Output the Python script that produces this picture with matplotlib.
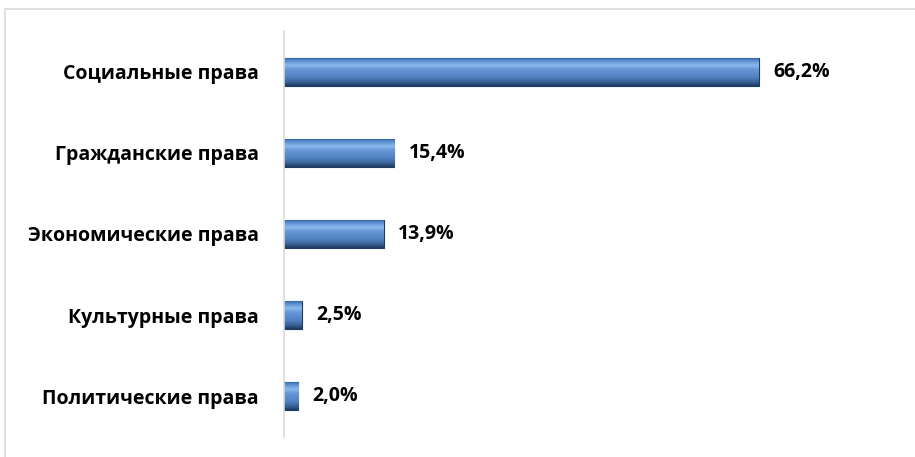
import numpy as np
import matplotlib.pyplot as plt
from matplotlib.patches import Rectangle
from matplotlib.colors import LinearSegmentedColormap

categories = ['Социальные права', 'Гражданские права', 'Экономические права',
              'Культурные права', 'Политические права']
values = [66.2, 15.4, 13.9, 2.5, 2.0]
value_labels = ['66,2%', '15,4%', '13,9%', '2,5%', '2,0%']

plt.rcParams['font.family'] = ['Open Sans', 'DejaVu Sans']

W, H = 915, 457
fig = plt.figure(figsize=(W / 100, H / 100), dpi=100)

# chart frame
fig.patches.append(Rectangle((5 / W, -0.1), 1.2, 1 - 9 / H + 0.1,
                             transform=fig.transFigure, fill=False,
                             edgecolor='#d9d9d9', linewidth=1.2))

ax = fig.add_axes([284 / W, 1 - 437 / H, (880 - 284) / W, (437 - 31) / H])
px_per_unit = 475 / 66.2

y = np.arange(len(categories))
bars = ax.barh(y, values, height=0.345, color='#4f81bd',
               edgecolor='#1f3a60', linewidth=0.8)

# bevelled gradient fill
grad_cmap = LinearSegmentedColormap.from_list('bevel', [
    (0.0, '#2d5a94'), (0.12, '#5b8fd0'), (0.28, '#8cbaf0'), (0.42, '#6596d6'),
    (0.7, '#5282c2'), (0.88, '#385f92'), (1.0, '#1d3a5e')])
grad = np.linspace(0, 1, 64).reshape(-1, 1)
for b in bars:
    x0, y0 = b.get_x(), b.get_y()
    im = ax.imshow(grad, cmap=grad_cmap, aspect='auto', interpolation='bicubic',
                   extent=(x0, x0 + b.get_width(), y0 + b.get_height(), y0),
                   zorder=2)
    im.set_clip_path(b)
ax.set_xlim(0, (880 - 284) / px_per_unit)
ax.set_ylim(len(categories) - 0.5, -0.5)

for yi, v, lab in zip(y, values, value_labels):
    ax.text(v + 14 / px_per_unit, yi, lab, va='center', ha='left',
            fontsize=14, fontweight='bold', color='black')

ax.set_yticks(y)
ax.set_yticklabels(categories, fontsize=14, fontweight='bold')
ax.tick_params(axis='y', length=0, pad=18)
ax.set_xticks([])
for s in ['top', 'right', 'bottom']:
    ax.spines[s].set_visible(False)
ax.spines['left'].set_color('#d9d9d9')
ax.spines['left'].set_linewidth(1.2)

fig.savefig('out.png', dpi=100)
